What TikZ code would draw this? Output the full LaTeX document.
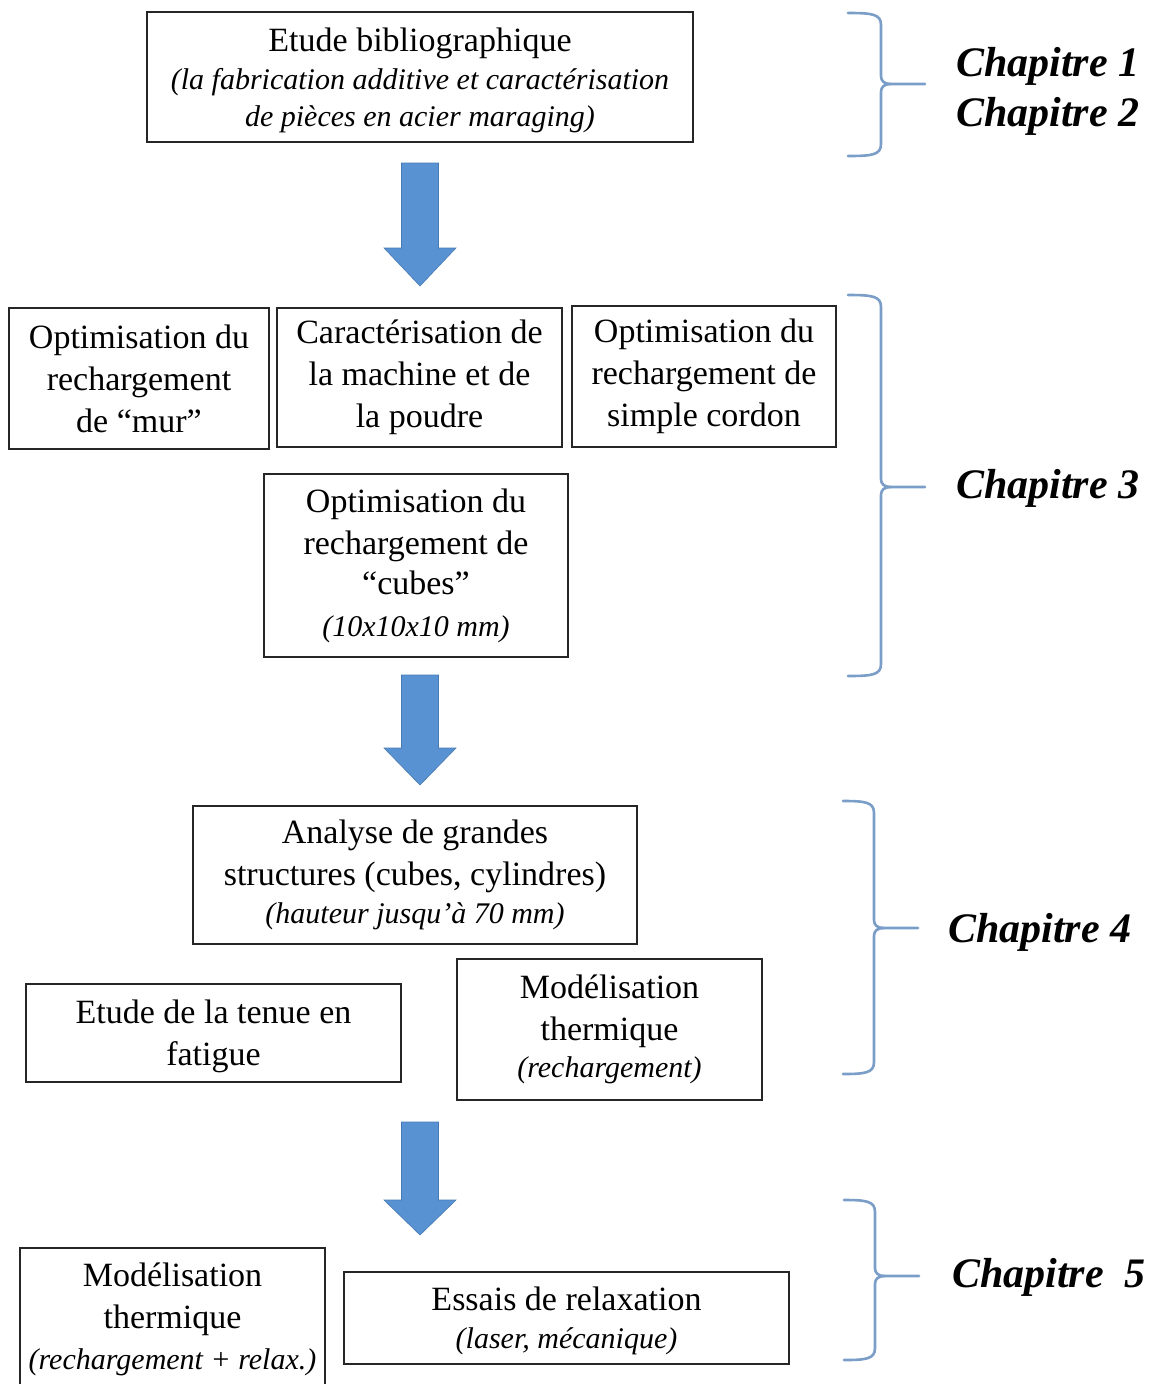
\documentclass[tikz,border=0pt]{standalone}
\usepackage{fontspec}
\setmainfont{Liberation Serif}
\definecolor{arrowblue}{RGB}{88,146,210}
\definecolor{arrowedge}{RGB}{72,122,178}
\definecolor{bracecol}{RGB}{122,158,200}
\newcommand\subit{\itshape\fontsize{30}{37}\selectfont}
\newcommand\topstrut[1]{\rule{0pt}{#1}}
\begin{document}
\begin{tikzpicture}[x=1pt,y=-1pt,
  box/.style={draw=black!85, line width=1.4pt, align=center, inner sep=0pt,
    font=\fontsize{34}{42}\selectfont},
  chap/.style={font=\fontsize{42}{48}\selectfont\bfseries\itshape, anchor=base west, inner sep=0pt},
  bracepath/.style={draw=bracecol, line width=2.6pt, line cap=round, line join=round},
  blockarrow/.style={fill=arrowblue, draw=arrowedge, line width=0.6pt}
]
\useasboundingbox (0,0) rectangle (1155,1384);

% ---------- boxes ----------
\node[box, minimum width=546, minimum height=130] (b1) at (420,77)
  {\topstrut{31pt}Etude bibliographique\\[-4pt]{\subit (la fabrication additive et caractérisation}\\[-5pt]{\subit de pièces en acier maraging)}};

\node[box, minimum width=260, minimum height=141] (b2a) at (139,378.5)
  {Optimisation du\\rechargement\\de “mur”};
\node[box, minimum width=285, minimum height=139] (b2b) at (419.5,377.5)
  {Caractérisation de\\la machine et de\\la poudre};
\node[box, minimum width=264, minimum height=141] (b2c) at (704,376.5)
  {Optimisation du\\rechargement de\\simple cordon};

\node[box, minimum width=304, minimum height=183] (b3) at (416,565.5)
  {Optimisation du\\rechargement de\\[-2pt]“cubes”\\{\subit (10x10x10 mm)}};

\node[box, minimum width=444, minimum height=138] (b4) at (415,875)
  {Analyse de grandes\\structures (cubes, cylindres)\\[-4pt]{\subit (hauteur jusqu’à 70 mm)}};
\node[box, minimum width=375, minimum height=98] (b5) at (213.5,1033)
  {\topstrut{31pt}Etude de la tenue en\\fatigue};
\node[box, minimum width=305, minimum height=141] (b6) at (609.5,1029.5)
  {Modélisation\\thermique\\[-5pt]{\subit (rechargement)}};

\node[box, minimum width=305, minimum height=142] (b7) at (172.5,1319)
  {Modélisation\\thermique\\[-1pt]{\subit (rechargement + relax.)}};
\node[box, minimum width=445, minimum height=92] (b8) at (566.5,1318)
  {\topstrut{29pt}Essais de relaxation\\[-4pt]{\subit (laser, mécanique)}};

% ---------- block arrows ----------
\coordinate (a1) at (420,163);
\coordinate (a2) at (420,675);
\coordinate (a3) at (420,1122);
\fill[blockarrow] (a1) ++(-18.5,0) -- ++(37,0) -- ++(0,85) -- ++(17.5,0) -- ++(-36,38) -- ++(-36,-38) -- ++(17.5,0) -- cycle;
\fill[blockarrow] (a2) ++(-18.5,0) -- ++(37,0) -- ++(0,73) -- ++(17.5,0) -- ++(-36,37) -- ++(-36,-37) -- ++(17.5,0) -- cycle;
\fill[blockarrow] (a3) ++(-18.5,0) -- ++(37,0) -- ++(0,78) -- ++(17.5,0) -- ++(-36,35) -- ++(-36,-35) -- ++(17.5,0) -- cycle;

% ---------- braces ----------
\draw[bracepath] (848,13) .. controls (872,13) and (881,14) .. (881,25) -- (881,76)
  .. controls (881,81) and (884,84) .. (891,84) -- (925,84);
\draw[bracepath] (891,84) .. controls (884,84) and (881,87) .. (881,92) -- (881,144)
  .. controls (881,155) and (872,156) .. (848,156);

\draw[bracepath] (848,295) .. controls (872,295) and (881,296) .. (881,307) -- (881,479)
  .. controls (881,484) and (884,487) .. (891,487) -- (925,487);
\draw[bracepath] (891,487) .. controls (884,487) and (881,490) .. (881,495) -- (881,664)
  .. controls (881,675) and (872,676) .. (848,676);

\draw[bracepath] (843,801) .. controls (865,801) and (874,802) .. (874,813) -- (874,920)
  .. controls (874,925) and (877,928) .. (884,928) -- (918,928);
\draw[bracepath] (884,928) .. controls (877,928) and (874,931) .. (874,936) -- (874,1062)
  .. controls (874,1073) and (865,1074) .. (843,1074);

\draw[bracepath] (844,1200) .. controls (866,1200) and (875,1201) .. (875,1212) -- (875,1268)
  .. controls (875,1273) and (878,1276) .. (885,1276) -- (919,1276);
\draw[bracepath] (885,1276) .. controls (878,1276) and (875,1279) .. (875,1284) -- (875,1348)
  .. controls (875,1359) and (866,1360) .. (844,1360);

% ---------- chapter labels ----------
\node[chap] (c1) at (956,76) {Chapitre 1};
\node[chap] (c2) at (956,126) {Chapitre 2};
\node[chap] (c3) at (956,498) {Chapitre 3};
\node[chap] (c4) at (948,942) {Chapitre 4};
\node[chap] (c5) at (952,1287) {Chapitre\ \ 5};
\end{tikzpicture}
\end{document}
